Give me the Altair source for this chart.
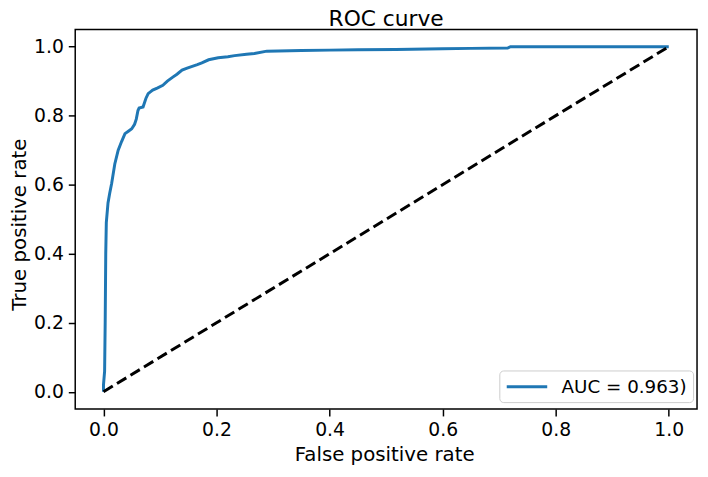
import altair as alt
import pandas as pd

# ROC curve points
fpr = [0.0, 0.0, 0.002, 0.003, 0.004, 0.005, 0.008, 0.011, 0.0145, 0.02, 0.026, 0.032,
       0.038, 0.044, 0.05, 0.055, 0.058, 0.061, 0.063, 0.07, 0.075, 0.079, 0.083, 0.087,
       0.095, 0.105, 0.113, 0.122, 0.13, 0.139, 0.148, 0.157, 0.166, 0.174, 0.186, 0.203,
       0.22, 0.232, 0.253, 0.267, 0.289, 0.35, 0.4, 0.45, 0.517, 0.6, 0.65, 0.715, 0.72,
       0.8, 0.9, 1.0]
tpr = [0.0, 0.02, 0.06, 0.2, 0.4, 0.49, 0.547, 0.575, 0.604, 0.66, 0.70, 0.725,
       0.748, 0.755, 0.762, 0.775, 0.79, 0.815, 0.822, 0.825, 0.85, 0.864, 0.869, 0.874,
       0.88, 0.888, 0.9, 0.911, 0.92, 0.932, 0.938, 0.943, 0.948, 0.953, 0.962, 0.968,
       0.971, 0.974, 0.978, 0.98, 0.987, 0.989, 0.99, 0.991, 0.992, 0.994, 0.995, 0.996,
       1.0, 1.0, 1.0, 1.0]
diag_x = [0.0, 1.0]
diag_y = [0.0, 1.0]
legend_label = "AUC = 0.963)"
chart_title = "ROC curve"
tick_values = [0.0, 0.2, 0.4, 0.6, 0.8, 1.0]

roc = pd.DataFrame({"fpr": fpr, "tpr": tpr, "idx": list(range(len(fpr))),
                    "series": [legend_label] * len(fpr)})
diag = pd.DataFrame({"fpr": diag_x, "tpr": diag_y})
title_df = pd.DataFrame({"t": [chart_title]})

FONT = "DejaVu Sans"
W, H = 629, 384
xscale = alt.Scale(domain=[-0.05, 1.05], nice=False, zero=False)
yscale = alt.Scale(domain=[-0.05, 1.05], nice=False, zero=False)

x_axis = alt.Axis(values=tick_values, format=".1f", title="False positive rate",
                  titleX=312.5, titleY=52, titleBaseline="alphabetic", titleAlign="center",
                  labelPadding=5)
y_axis = alt.Axis(values=tick_values, format=".1f", title="True positive rate",
                  titleX=-50, titleY=197, titleAngle=-90, titleBaseline="alphabetic",
                  titleAlign="center", labelPadding=5)

curve = alt.Chart(roc).mark_line(strokeWidth=3).encode(
    x=alt.X("fpr:Q", scale=xscale, axis=x_axis),
    y=alt.Y("tpr:Q", scale=yscale, axis=y_axis),
    order=alt.Order("idx:Q"),
    color=alt.Color("series:N",
                    scale=alt.Scale(domain=[legend_label], range=["#1f77b4"]),
                    legend=alt.Legend(title=None, orient="none", legendX=429, legendY=345,
                                      symbolType="M-1,0L3.55,0", symbolSize=324,
                                      symbolStrokeWidth=3, symbolFillColor="transparent",
                                      labelOffset=36,
                                      labelFontSize=18.5, labelFont=FONT, labelColor="black",
                                      padding=6, strokeColor="#cccccc", fillColor="white",
                                      cornerRadius=4)),
)

diagonal = alt.Chart(diag).mark_line(color="black", strokeWidth=3, strokeDash=[11, 5]).encode(
    x=alt.X("fpr:Q", scale=xscale),
    y=alt.Y("tpr:Q", scale=yscale),
)

title_mark = alt.Chart(title_df).mark_text(
    font=FONT, fontSize=22, color="black", align="center", baseline="alphabetic"
).encode(
    text="t:N", x=alt.value(W / 2), y=alt.value(-3)
)

chart = alt.layer(curve, diagonal, title_mark).properties(
    width=W, height=H,
    autosize=alt.AutoSizeParams(type="none"),
    padding={"left": 68, "top": 19, "right": 3, "bottom": 57},
).configure_view(
    stroke="black", strokeWidth=1.5
).configure_axis(
    grid=False, domain=False, tickSize=7, tickWidth=1.5, tickColor="black",
    labelFont=FONT, labelFontSize=19, labelColor="black",
    titleFont=FONT, titleFontSize=20, titleFontWeight="normal", titleColor="black",
)

chart.save("out.html", embed_options={"renderer": "svg", "actions": False})
